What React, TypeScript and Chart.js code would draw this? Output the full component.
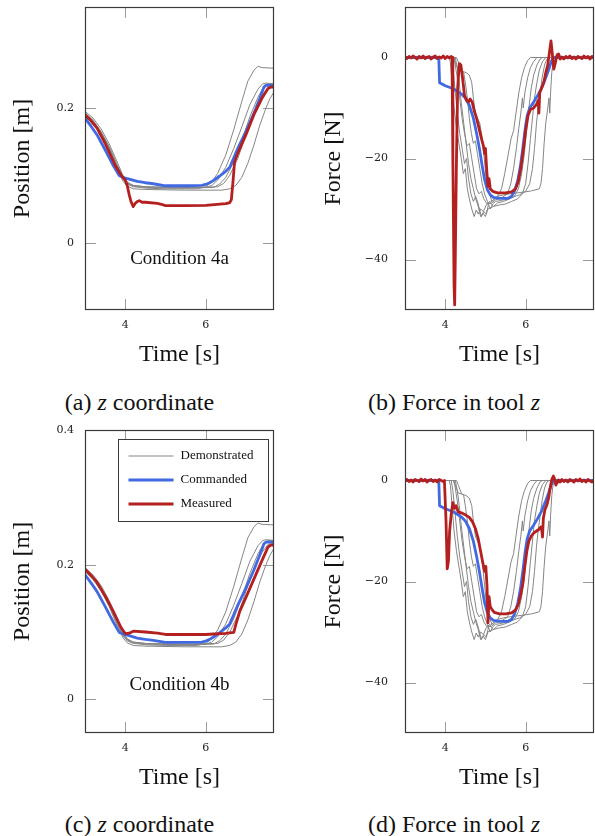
import React, { useEffect, useRef } from 'react';
import { Chart, registerables } from 'chart.js';

Chart.register(...registerables);

type Pt = [number, number];

// ---------- axes ----------
const timeRange = [3, 7.7];
const timeTicks = [4, 6];
const timeTickLabels = ['4', '6'];
const posRangeA = [-0.1, 0.35];
const posTicksA = [0, 0.2];
const posTickLabelsA = ['0', '0.2'];
const posRangeC = [-0.05, 0.4];
const posTicksC = [0, 0.2, 0.4];
const posTickLabelsC = ['0', '0.2', '0.4'];
const forceRange = [-50, 10];
const forceTicks = [-40, -20, 0];
const forceTickLabels = ['−40', '−20', '0'];

const legendOrder = ['Demonstrated', 'Commanded', 'Measured'];

// ---------- position (z) series ----------
const demoPos1: Pt[] = [[3, 0.193], [3.2, 0.182], [3.4, 0.165], [3.6, 0.143], [3.8, 0.116], [3.95, 0.097], [4.05, 0.089], [4.2, 0.084], [4.5, 0.081], [5.0, 0.08], [5.8, 0.08], [6.0, 0.083], [6.15, 0.09], [6.3, 0.103], [6.5, 0.13], [6.7, 0.168], [6.9, 0.21], [7.05, 0.24], [7.2, 0.256], [7.3, 0.262], [7.4, 0.26], [7.7, 0.259]];
const demoPos2: Pt[] = [[3, 0.195], [3.2, 0.185], [3.4, 0.169], [3.6, 0.147], [3.8, 0.12], [3.95, 0.099], [4.05, 0.09], [4.2, 0.085], [4.5, 0.083], [5.0, 0.082], [6.0, 0.082], [6.15, 0.085], [6.3, 0.093], [6.5, 0.112], [6.7, 0.14], [6.9, 0.172], [7.1, 0.205], [7.3, 0.228], [7.42, 0.236], [7.5, 0.237], [7.7, 0.236]];
const demoPos3: Pt[] = [[3, 0.19], [3.2, 0.179], [3.4, 0.162], [3.6, 0.14], [3.8, 0.112], [3.95, 0.094], [4.05, 0.087], [4.2, 0.083], [4.5, 0.082], [5.5, 0.081], [6.2, 0.082], [6.35, 0.087], [6.5, 0.097], [6.7, 0.12], [6.9, 0.152], [7.1, 0.187], [7.3, 0.216], [7.45, 0.232], [7.55, 0.236], [7.7, 0.235]];
const demoPos4: Pt[] = [[3, 0.192], [3.2, 0.181], [3.4, 0.164], [3.6, 0.142], [3.8, 0.114], [3.95, 0.095], [4.05, 0.088], [4.2, 0.085], [4.5, 0.083], [5.5, 0.082], [6.3, 0.083], [6.45, 0.088], [6.6, 0.1], [6.8, 0.125], [7.0, 0.16], [7.2, 0.193], [7.4, 0.218], [7.55, 0.23], [7.7, 0.232]];
const demoPos5: Pt[] = [[3, 0.19], [3.2, 0.178], [3.4, 0.161], [3.6, 0.138], [3.8, 0.109], [3.95, 0.091], [4.05, 0.084], [4.2, 0.08], [4.5, 0.079], [5.5, 0.078], [6.4, 0.078], [6.6, 0.08], [6.75, 0.085], [6.9, 0.097], [7.05, 0.118], [7.2, 0.145], [7.35, 0.175], [7.5, 0.2], [7.6, 0.214], [7.7, 0.224]];

const commandedPos: Pt[] = [[3, 0.185], [3.15, 0.173], [3.3, 0.16], [3.5, 0.138], [3.7, 0.115], [3.85, 0.0995], [4.0, 0.096], [4.1, 0.0945], [4.3, 0.091], [4.5, 0.089], [4.7, 0.0875], [5.0, 0.0845], [5.5, 0.0845], [5.9, 0.085], [6.0, 0.0865], [6.1, 0.089], [6.2, 0.0925], [6.35, 0.099], [6.5, 0.106], [6.6, 0.112], [6.7, 0.126], [6.8, 0.14], [7.0, 0.165], [7.2, 0.192], [7.35, 0.215], [7.45, 0.231], [7.5, 0.2335], [7.7, 0.2335]];

const measuredPosA: Pt[] = [[3, 0.19], [3.15, 0.181], [3.3, 0.17], [3.5, 0.1476], [3.75, 0.115], [3.9, 0.1], [4.0, 0.093], [4.05, 0.085], [4.1, 0.071], [4.15, 0.06], [4.2, 0.0535], [4.25, 0.0585], [4.3, 0.061], [4.35, 0.0624], [4.42, 0.06], [4.5, 0.06], [4.8, 0.0585], [4.95, 0.056], [5.0, 0.055], [5.5, 0.055], [6.0, 0.0553], [6.5, 0.058], [6.6, 0.0595], [6.64, 0.064], [6.68, 0.0906], [6.72, 0.12], [6.8, 0.133], [7.0, 0.16], [7.2, 0.19], [7.4, 0.2144], [7.55, 0.229], [7.62, 0.231], [7.7, 0.231]];
const measuredPosC: Pt[] = [[3, 0.1936], [3.15, 0.184], [3.3, 0.1736], [3.5, 0.1536], [3.7, 0.131], [3.9, 0.1063], [4.0, 0.0977], [4.1, 0.0983], [4.2, 0.1012], [4.5, 0.1], [4.8, 0.0983], [5.0, 0.0963], [5.5, 0.0963], [6.0, 0.0963], [6.2, 0.097], [6.5, 0.098], [6.7, 0.0995], [6.75, 0.111], [6.85, 0.131], [7.0, 0.151], [7.2, 0.1786], [7.4, 0.206], [7.55, 0.226], [7.62, 0.229], [7.7, 0.229]];

// ---------- force series ----------
const demoForce1: Pt[] = [[3, 0], [4.1, 0], [4.13, -1], [4.17, -5], [4.22, -10], [4.28, -14], [4.34, -17], [4.4, -20], [4.45, -23], [4.5, -22], [4.55, -26], [4.6, -28], [4.66, -30], [4.72, -31.5], [4.77, -30.2], [4.82, -31], [4.88, -30], [4.95, -30.5], [5.02, -29.2], [5.1, -28.8], [5.2, -28.2], [5.3, -27.6], [5.4, -26], [5.48, -23], [5.56, -19.5], [5.64, -16], [5.7, -14.5], [5.76, -11], [5.83, -7], [5.9, -4], [5.97, -2], [6.05, -0.6], [6.12, 0], [7.7, 0]];
const demoForce2: Pt[] = [[3, 0], [4.15, 0], [4.19, -2], [4.24, -6], [4.3, -11], [4.36, -15], [4.42, -18], [4.48, -21], [4.53, -20], [4.58, -24], [4.64, -27], [4.7, -28.5], [4.76, -27.5], [4.82, -29], [4.9, -31.5], [4.96, -30.5], [5.02, -31], [5.08, -29], [5.16, -28.8], [5.25, -28.2], [5.4, -27.8], [5.55, -27], [5.63, -25], [5.7, -22], [5.77, -18], [5.83, -14], [5.88, -11], [5.92, -8], [5.94, -10], [5.98, -7], [6.05, -4], [6.12, -2], [6.2, -0.8], [6.28, 0], [7.7, 0]];
const demoForce3: Pt[] = [[3, 0], [4.2, 0], [4.24, -1], [4.3, -4], [4.36, -8], [4.42, -12], [4.48, -15], [4.54, -17.5], [4.6, -17], [4.66, -20], [4.72, -23], [4.78, -26], [4.84, -27], [4.9, -26.5], [4.96, -28], [5.04, -29], [5.1, -28.5], [5.2, -29.5], [5.3, -28.8], [5.45, -28.5], [5.6, -28], [5.72, -27.5], [5.82, -26], [5.9, -23], [5.97, -19], [6.03, -14], [6.08, -10], [6.14, -6], [6.2, -3.5], [6.28, -1.5], [6.36, -0.3], [6.42, 0], [7.7, 0]];
const demoForce4: Pt[] = [[3, 0], [4.22, 0], [4.27, -1.5], [4.33, -2.5], [4.42, -2.7], [4.52, -3], [4.6, -3.5], [4.66, -5], [4.7, -8], [4.75, -11], [4.8, -12], [4.86, -13], [4.92, -16], [4.97, -20], [5.02, -24], [5.06, -26], [5.1, -27], [5.16, -28.5], [5.22, -28], [5.3, -27.5], [5.45, -27.2], [5.6, -27], [5.8, -26.8], [6.0, -26.6], [6.15, -26.4], [6.34, -26], [6.38, -25], [6.42, -22], [6.46, -17], [6.5, -13], [6.55, -10], [6.58, -8], [6.6, -11], [6.62, -7], [6.65, -3], [6.68, -1], [6.72, 0], [7.7, 0]];
const demoForce5: Pt[] = [[3, 0], [4.25, 0], [4.3, -2], [4.35, -5], [4.4, -9], [4.46, -13], [4.52, -17], [4.58, -21], [4.64, -24], [4.7, -26], [4.76, -28], [4.82, -29.5], [4.88, -31.5], [4.94, -30.8], [5.0, -31.5], [5.06, -30], [5.12, -29.8], [5.2, -29.5], [5.35, -29.2], [5.5, -29], [5.65, -28.5], [5.8, -28], [5.92, -27], [6.0, -25], [6.06, -21], [6.12, -16], [6.17, -12], [6.22, -8], [6.28, -5], [6.34, -2.5], [6.42, -0.8], [6.5, 0], [7.7, 0]];
const demoForce6: Pt[] = [[3, 0], [4.28, 0], [4.33, -1], [4.4, -2.5], [4.46, -3], [4.5, -5], [4.55, -8], [4.6, -12], [4.65, -15], [4.7, -17], [4.75, -16.5], [4.8, -19], [4.86, -22], [4.92, -25], [4.98, -27], [5.05, -28.5], [5.12, -30], [5.18, -29], [5.25, -28.5], [5.4, -28.3], [5.55, -28], [5.7, -27.6], [5.85, -27.2], [6.0, -26.5], [6.1, -25], [6.17, -22], [6.22, -18], [6.27, -13], [6.31, -10], [6.36, -7], [6.41, -4], [6.47, -1.5], [6.53, -0.3], [6.58, 0], [7.7, 0]];

const commandedForce: Pt[] = [[3, 0], [3.84, 0], [3.86, -5], [4.0, -5.6], [4.2, -6.2], [4.4, -7.2], [4.5, -8], [4.6, -9.5], [4.7, -12], [4.78, -15], [4.85, -18], [4.92, -21.5], [4.98, -24.2], [5.05, -26.2], [5.12, -27.2], [5.2, -27.7], [5.35, -27.9], [5.55, -27.9], [5.65, -27.5], [5.72, -26.5], [5.8, -24.5], [5.87, -21.5], [5.93, -18], [5.99, -14], [6.04, -11.5], [6.1, -10], [6.2, -8.8], [6.3, -7.5], [6.4, -6], [6.5, -4], [6.57, -2.5], [6.63, -1], [6.68, 0], [7.7, 0]];

const measuredForceB: Pt[] = [[3.0, 0.1], [3.05, -0.2], [3.1, 0.2], [3.15, -0.1], [3.2, 0.3], [3.25, 0], [3.3, -0.3], [3.35, 0.2], [3.4, -0.1], [3.45, 0.3], [3.5, -0.2], [3.55, 0.1], [3.6, 0.2], [3.65, -0.3], [3.7, 0.1], [3.75, 0.3], [3.8, -0.2], [3.85, 0.1], [3.9, -0.1], [3.95, 0.3], [4.0, -0.2], [4.05, 0.2], [4.1, -0.1], [4.15, 0.2], [4.17, 0], [4.19, -20], [4.22, -45], [4.235, -49], [4.25, -40], [4.28, -20], [4.31, -6], [4.35, -1.2], [4.39, -1.5], [4.43, -4], [4.48, -7.5], [4.53, -8.5], [4.58, -8.8], [4.62, -8.2], [4.67, -8.8], [4.72, -10.5], [4.78, -12], [4.84, -14], [4.9, -16], [4.95, -17.5], [4.98, -19], [5.0, -18], [5.03, -22], [5.06, -25.5], [5.09, -24], [5.12, -26], [5.18, -26.5], [5.3, -26.8], [5.5, -26.8], [5.65, -26.6], [5.75, -26], [5.82, -24.5], [5.88, -22], [5.94, -18.5], [6.0, -14.5], [6.06, -11.5], [6.12, -10.3], [6.2, -10], [6.27, -9.3], [6.31, -8.5], [6.33, -11], [6.35, -7], [6.4, -6], [6.45, -5], [6.5, -3], [6.55, -1.5], [6.6, 1.5], [6.63, 3.3], [6.66, 1], [6.7, -2.3], [6.74, -1], [6.78, 0.5], [6.82, 0.7], [6.86, -0.3], [6.9, 0.1], [6.95, -0.3], [7.0, 0.2], [7.05, -0.1], [7.1, 0.3], [7.15, -0.2], [7.2, 0.1], [7.25, -0.3], [7.3, 0.2], [7.35, 0], [7.4, -0.2], [7.45, 0.3], [7.5, -0.1], [7.55, 0.2], [7.6, -0.3], [7.65, 0.2], [7.7, -0.1]];
const measuredForceD: Pt[] = [[3.0, -0.1], [3.05, 0.2], [3.1, -0.2], [3.15, 0.1], [3.2, -0.3], [3.25, 0.2], [3.3, 0], [3.35, -0.2], [3.4, 0.3], [3.45, -0.1], [3.5, 0.2], [3.55, -0.3], [3.6, 0.1], [3.65, 0.2], [3.7, -0.2], [3.75, 0.1], [3.8, -0.3], [3.85, 0.2], [3.9, 0], [3.95, -0.2], [3.98, 0], [4.02, -8], [4.05, -17.5], [4.08, -16], [4.11, -10], [4.15, -6.6], [4.19, -4.4], [4.23, -5.5], [4.27, -5], [4.32, -6.2], [4.4, -6.4], [4.5, -6.8], [4.6, -7.3], [4.68, -8.2], [4.75, -9.5], [4.82, -11.5], [4.88, -14], [4.94, -16.5], [4.98, -18], [5.01, -17], [5.04, -21], [5.065, -28.2], [5.09, -23], [5.12, -25], [5.16, -25.5], [5.22, -26.1], [5.35, -26.4], [5.5, -26.4], [5.65, -26.2], [5.75, -25.6], [5.82, -24.5], [5.88, -22.5], [5.93, -20.5], [5.98, -17], [6.03, -14], [6.08, -12], [6.14, -11], [6.2, -10.4], [6.27, -10], [6.33, -9.7], [6.38, -9.2], [6.4, -9.8], [6.42, -11.2], [6.44, -7.5], [6.48, -5.8], [6.53, -4.8], [6.57, -3.5], [6.61, -1.5], [6.65, 0.2], [6.69, 0.9], [6.72, 0.3], [6.75, -0.9], [6.78, -0.5], [6.82, 0.1], [6.86, -0.3], [6.9, 0.2], [6.95, -0.2], [7.0, 0.1], [7.05, -0.3], [7.1, 0.2], [7.15, 0], [7.2, -0.3], [7.25, 0.2], [7.3, -0.1], [7.35, 0.3], [7.4, -0.2], [7.45, 0.1], [7.5, -0.3], [7.55, 0.2], [7.6, -0.1], [7.65, -0.3], [7.7, 0.1]];

const demoPos: Pt[][] = [demoPos1, demoPos2, demoPos3, demoPos4, demoPos5];
const demoForce: Pt[][] = [demoForce1, demoForce2, demoForce3, demoForce4, demoForce5, demoForce6];

const noteA = { x: 5.35, y: -0.024, text: 'Condition 4a' };
const noteC = { x: 5.35, y: 0.021, text: 'Condition 4b' };

// ---------- styling ----------
const COLORS = { demo: '#858585', cmd: '#4169e1', meas: '#b3201f', frame: '#3a3a3a', tick: '#9a9a9a', text: '#111111' };
const SERIF = '"Liberation Serif", "Times New Roman", serif';
const TICKFONT = { family: '"DejaVu Serif", serif', size: 11 };
const TITLEFONT = { family: SERIF, size: 24, lineHeight: 1 };

function lineDs(label: string, pts: Pt[], color: string, width: number) {
  return {
    label,
    data: pts.map(([x, y]) => ({ x, y })),
    borderColor: color,
    backgroundColor: color,
    borderWidth: width,
    pointRadius: 0,
    pointHoverRadius: 0,
    tension: 0,
    fill: false,
    borderJoinStyle: 'round',
    borderCapStyle: 'round',
  };
}

const framePlugin = {
  id: 'frameTicks',
  beforeDatasetsDraw(chart: any) {
    const { ctx, chartArea: a, scales } = chart;
    const L = 11;
    ctx.save();
    ctx.strokeStyle = COLORS.tick;
    ctx.lineWidth = 1;
    ctx.beginPath();
    for (const t of scales.x.ticks) {
      const px = Math.round(scales.x.getPixelForValue(t.value)) + 0.5;
      ctx.moveTo(px, a.bottom); ctx.lineTo(px, a.bottom - L);
      ctx.moveTo(px, a.top); ctx.lineTo(px, a.top + L);
    }
    for (const t of scales.y.ticks) {
      const py = Math.round(scales.y.getPixelForValue(t.value)) + 0.5;
      ctx.moveTo(a.left, py); ctx.lineTo(a.left + L, py);
      ctx.moveTo(a.right, py); ctx.lineTo(a.right - L, py);
    }
    ctx.stroke();
    ctx.restore();
  },
  afterDatasetsDraw(chart: any) {
    const { ctx, chartArea: a } = chart;
    ctx.save();
    ctx.strokeStyle = COLORS.frame;
    ctx.lineWidth = 1.2;
    ctx.strokeRect(Math.round(a.left) + 0.5, Math.round(a.top) + 0.5, Math.round(a.right - a.left) - 1, Math.round(a.bottom - a.top) - 1);
    ctx.restore();
  },
};

function makeNotePlugin(note: { x: number; y: number; text: string }) {
  return {
    id: 'conditionNote',
    afterDatasetsDraw(chart: any) {
      const { ctx, scales } = chart;
      ctx.save();
      ctx.fillStyle = COLORS.text;
      ctx.font = `19px ${SERIF}`;
      ctx.textAlign = 'center';
      ctx.textBaseline = 'middle';
      ctx.fillText(note.text, scales.x.getPixelForValue(note.x), scales.y.getPixelForValue(note.y));
      ctx.restore();
    },
  };
}

const boxLegendPlugin = {
  id: 'boxLegend',
  afterDatasetsDraw(chart: any) {
    const { ctx, chartArea: a } = chart;
    const w = 150, h = 82;
    const x0 = Math.round(a.right - 6 - w) + 0.5;
    const y0 = Math.round(a.top + 9) + 0.5;
    const entries = legendOrder.map((lab) => chart.data.datasets.find((d: any) => d.label === lab));
    ctx.save();
    ctx.fillStyle = '#ffffff';
    ctx.fillRect(x0, y0, w, h);
    ctx.strokeStyle = COLORS.frame;
    ctx.lineWidth = 1;
    ctx.strokeRect(x0, y0, w, h);
    entries.forEach((ds: any, i: number) => {
      const y = y0 + 16.5 + i * 24;
      ctx.strokeStyle = ds.borderColor;
      ctx.lineWidth = ds.borderWidth;
      ctx.beginPath();
      ctx.moveTo(x0 + 10, y);
      ctx.lineTo(x0 + 55, y);
      ctx.stroke();
      ctx.fillStyle = COLORS.text;
      ctx.font = `13px ${SERIF}`;
      ctx.textAlign = 'left';
      ctx.textBaseline = 'middle';
      ctx.fillText(ds.label, x0 + 62, y);
    });
    ctx.restore();
  },
};

interface Spec {
  left: number; top: number; width: number; height: number;
  padLeft: number; padRight: number; yAxisWidth: number; yTickPadding: number;
  yRange: number[]; yTicks: number[]; yTickLabels: string[]; yTitle: string;
  measured: Pt[]; commanded: Pt[]; demos: Pt[][];
  note?: { x: number; y: number; text: string }; legend?: boolean;
}

function buildConfig(s: Spec): any {
  const plugins: any[] = [framePlugin];
  if (s.note) plugins.push(makeNotePlugin(s.note));
  if (s.legend) plugins.push(boxLegendPlugin);
  return {
    type: 'line',
    data: {
      datasets: [
        lineDs('Measured', s.measured, COLORS.meas, 2.8),
        lineDs('Commanded', s.commanded, COLORS.cmd, 2.8),
        ...s.demos.map((d) => lineDs('Demonstrated', d, COLORS.demo, 1)),
      ],
    },
    options: {
      responsive: false,
      animation: false,
      devicePixelRatio: 1,
      events: [],
      layout: { padding: { left: s.padLeft, right: s.padRight, top: 7, bottom: 13 }, autoPadding: false },
      plugins: { legend: { display: false }, tooltip: { enabled: false }, title: { display: false } },
      scales: {
        x: {
          type: 'linear',
          min: timeRange[0],
          max: timeRange[1],
          afterBuildTicks: (sc: any) => { sc.ticks = timeTicks.map((v) => ({ value: v })); },
          afterFit: (sc: any) => { sc.height = 57; sc.paddingLeft = 0; sc.paddingRight = 0; sc.paddingTop = 0; sc.paddingBottom = 0; },
          ticks: { callback: (_v: any, i: number) => timeTickLabels[i], padding: 9, font: TICKFONT, color: '#222', maxRotation: 0, autoSkip: false },
          grid: { display: false, drawTicks: false },
          border: { display: false },
          title: { display: true, text: 'Time [s]', font: TITLEFONT, color: COLORS.text, padding: 0 },
        },
        y: {
          type: 'linear',
          min: s.yRange[0],
          max: s.yRange[1],
          afterBuildTicks: (sc: any) => { sc.ticks = s.yTicks.map((v) => ({ value: v })); },
          afterFit: (sc: any) => { sc.width = s.yAxisWidth; sc.paddingLeft = 0; sc.paddingRight = 0; sc.paddingTop = 0; sc.paddingBottom = 0; },
          ticks: { callback: (_v: any, i: number) => s.yTickLabels[i], padding: s.yTickPadding, font: TICKFONT, color: '#222', autoSkip: false },
          grid: { display: false, drawTicks: false },
          border: { display: false },
          title: { display: true, text: s.yTitle, font: TITLEFONT, color: COLORS.text, padding: 0 },
        },
      },
    },
    plugins,
  };
}

function Panel({ spec }: { spec: Spec }) {
  const ref = useRef<HTMLCanvasElement | null>(null);
  useEffect(() => {
    if (!ref.current) return;
    const chart = new Chart(ref.current, buildConfig(spec));
    return () => chart.destroy();
  }, []);
  return (
    <canvas
      ref={ref}
      width={spec.width}
      height={spec.height}
      style={{ position: 'absolute', left: spec.left, top: spec.top, width: spec.width, height: spec.height }}
    />
  );
}

const specA: Spec = {
  left: 0, top: 0, width: 297, height: 380, padLeft: 11, padRight: 23, yAxisWidth: 74, yTickPadding: 11,
  yRange: posRangeA, yTicks: posTicksA, yTickLabels: posTickLabelsA, yTitle: 'Position [m]',
  measured: measuredPosA, commanded: commandedPos, demos: demoPos, note: noteA,
};
const specB: Spec = {
  left: 297, top: 0, width: 298, height: 380, padLeft: 25, padRight: 1, yAxisWidth: 83, yTickPadding: 17,
  yRange: forceRange, yTicks: forceTicks, yTickLabels: forceTickLabels, yTitle: 'Force [N]',
  measured: measuredForceB, commanded: commandedForce, demos: demoForce,
};
const specC: Spec = {
  left: 0, top: 423, width: 297, height: 380, padLeft: 11, padRight: 23, yAxisWidth: 74, yTickPadding: 11,
  yRange: posRangeC, yTicks: posTicksC, yTickLabels: posTickLabelsC, yTitle: 'Position [m]',
  measured: measuredPosC, commanded: commandedPos, demos: demoPos, note: noteC, legend: true,
};
const specD: Spec = {
  left: 297, top: 423, width: 298, height: 380, padLeft: 25, padRight: 1, yAxisWidth: 83, yTickPadding: 17,
  yRange: forceRange, yTicks: forceTicks, yTickLabels: forceTickLabels, yTitle: 'Force [N]',
  measured: measuredForceD, commanded: commandedForce, demos: demoForce,
};

function Caption({ cx, top, tag, before, after }: { cx: number; top: number; tag: string; before: string; after: string }) {
  return (
    <div
      style={{
        position: 'absolute', left: cx - 150, top, width: 300, textAlign: 'center',
        fontFamily: SERIF, fontSize: 24, lineHeight: '28px', color: COLORS.text, whiteSpace: 'nowrap',
      }}
    >
      {tag} {before}<i>z</i>{after}
    </div>
  );
}

export default function App() {
  return (
    <div style={{ position: 'absolute', left: 0, top: 0, width: 595, height: 836, background: '#fff', overflow: 'hidden' }}>
      <Panel spec={specA} />
      <Panel spec={specB} />
      <Panel spec={specC} />
      <Panel spec={specD} />
      <Caption cx={139.5} top={388} tag="(a)" before="" after=" coordinate" />
      <Caption cx={454} top={388} tag="(b)" before="Force in tool " after="" />
      <Caption cx={139.5} top={810} tag="(c)" before="" after=" coordinate" />
      <Caption cx={454} top={810} tag="(d)" before="Force in tool " after="" />
    </div>
  );
}
